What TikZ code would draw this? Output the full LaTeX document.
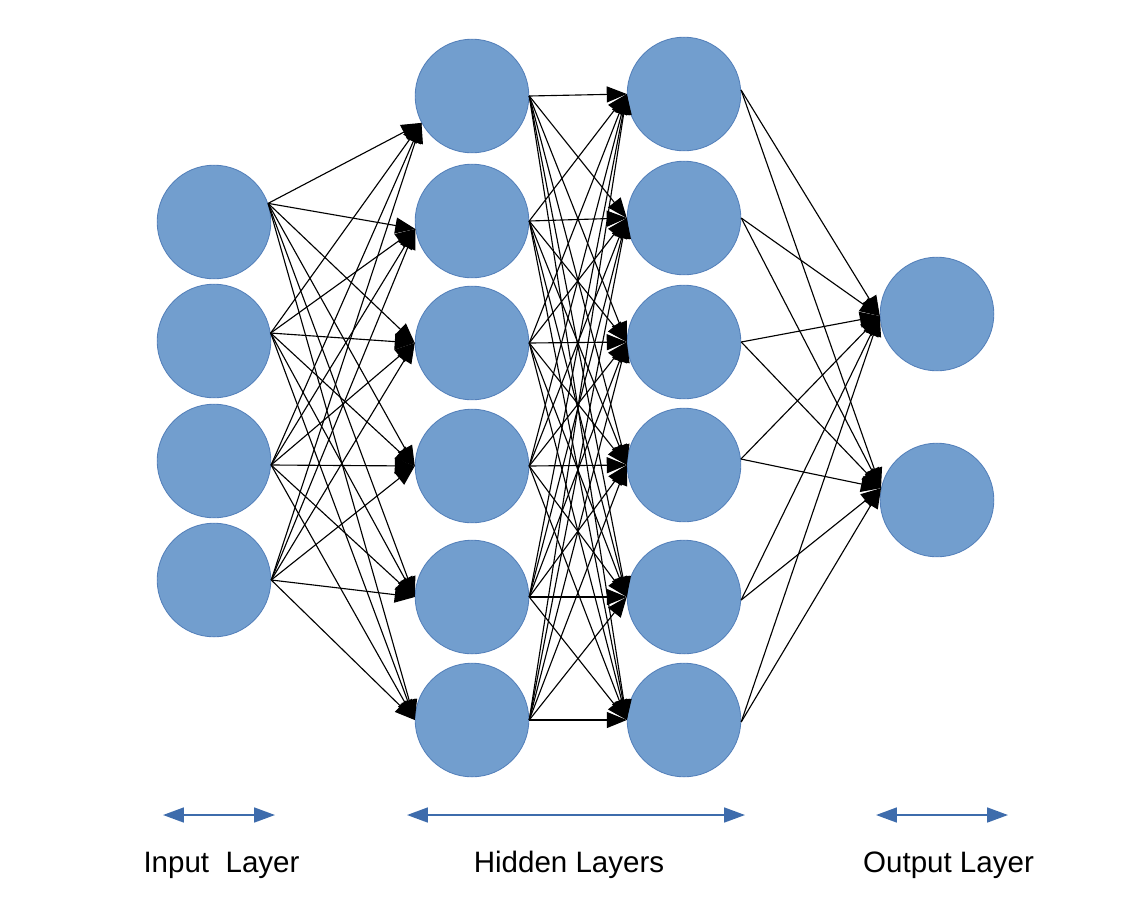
\documentclass[tikz,border=0pt]{standalone}
\usepackage{fontspec}
\setmainfont{Liberation Sans}
\usetikzlibrary{arrows.meta}

\definecolor{neuronfill}{RGB}{114,158,206}
\definecolor{neuronline}{RGB}{84,128,186}
\definecolor{spanblue}{RGB}{62,108,172}

\tikzset{
  neuron/.style={circle, fill=neuronfill, draw=neuronline, line width=0.6pt,
                 minimum size=2.84cm, inner sep=0pt},
  link/.style={draw=black, line width=0.8pt,
               -{Triangle[length=0.5cm, width=0.4cm]}},
  span/.style={draw=spanblue, line width=1.4pt,
               {Triangle[length=0.52cm, width=0.37cm]}-{Triangle[length=0.52cm, width=0.37cm]}},
  layername/.style={anchor=base, font=\fontsize{21}{25}\selectfont}
}

\begin{document}
\begin{tikzpicture}[x=0.025cm, y=-0.025cm]
\def \xin  {214};
\def \xha  {472};
\def \xhb  {684};
\def \xout {937};

\def \yspan  {815};
\def \ylabel {872};

\useasboundingbox (0,0) rectangle (1129,902);

% input layer
\node [neuron] (in1) at (\xin, 222) {};
\node [neuron] (in2) at (\xin, 341) {};
\node [neuron] (in3) at (\xin, 461) {};
\node [neuron] (in4) at (\xin, 580) {};

% hidden layers
\node [neuron] (ha1) at (\xha, 96)  {};
\node [neuron] (ha2) at (\xha, 221) {};
\node [neuron] (ha3) at (\xha, 343) {};
\node [neuron] (ha4) at (\xha, 466) {};
\node [neuron] (ha5) at (\xha, 597) {};
\node [neuron] (ha6) at (\xha, 720) {};

\node [neuron] (hb1) at (\xhb, 94)  {};
\node [neuron] (hb2) at (\xhb, 218) {};
\node [neuron] (hb3) at (\xhb, 342) {};
\node [neuron] (hb4) at (\xhb, 465) {};
\node [neuron] (hb5) at (\xhb, 597) {};
\node [neuron] (hb6) at (\xhb, 720) {};

% output layer
\node [neuron] (out1) at (\xout, 314) {};
\node [neuron] (out2) at (\xout, 500) {};

% input -> hidden
\foreach \i/\a in {1/19, 2/8, 3/-4, 4/0}
  \foreach \j/\b in {1/208, 2/188, 3/180, 4/180, 5/180, 6/180}
    \draw [link] (in\i.\a) -- (ha\j.\b);

% hidden -> hidden
\foreach \i in {1,...,6}
  \foreach \j in {1,...,6}
    \draw [link] (ha\i.east) -- (hb\j.west);

% hidden -> output
\foreach \i/\a in {1/4, 2/0, 3/0, 4/6, 5/-3, 6/-2}
  \foreach \j/\b in {1/182, 2/168}
    \draw [link] (hb\i.\a) -- (out\j.\b);

% spans and names
\coordinate (inL)  at (163, \yspan);
\coordinate (inR)  at (275, \yspan);
\coordinate (hidL) at (407, \yspan);
\coordinate (hidR) at (745, \yspan);
\coordinate (outL) at (876, \yspan);
\coordinate (outR) at (1008, \yspan);
\draw [span] (inL) -- (inR);
\draw [span] (hidL) -- (hidR);
\draw [span] (outL) -- (outR);

\node [layername] (inname)  at (221.5, \ylabel) {Input~~Layer};
\node [layername] (hidname) at (569, \ylabel)   {Hidden Layers};
\node [layername] (outname) at (948.5, \ylabel) {Output Layer};

\end{tikzpicture}
\end{document}
